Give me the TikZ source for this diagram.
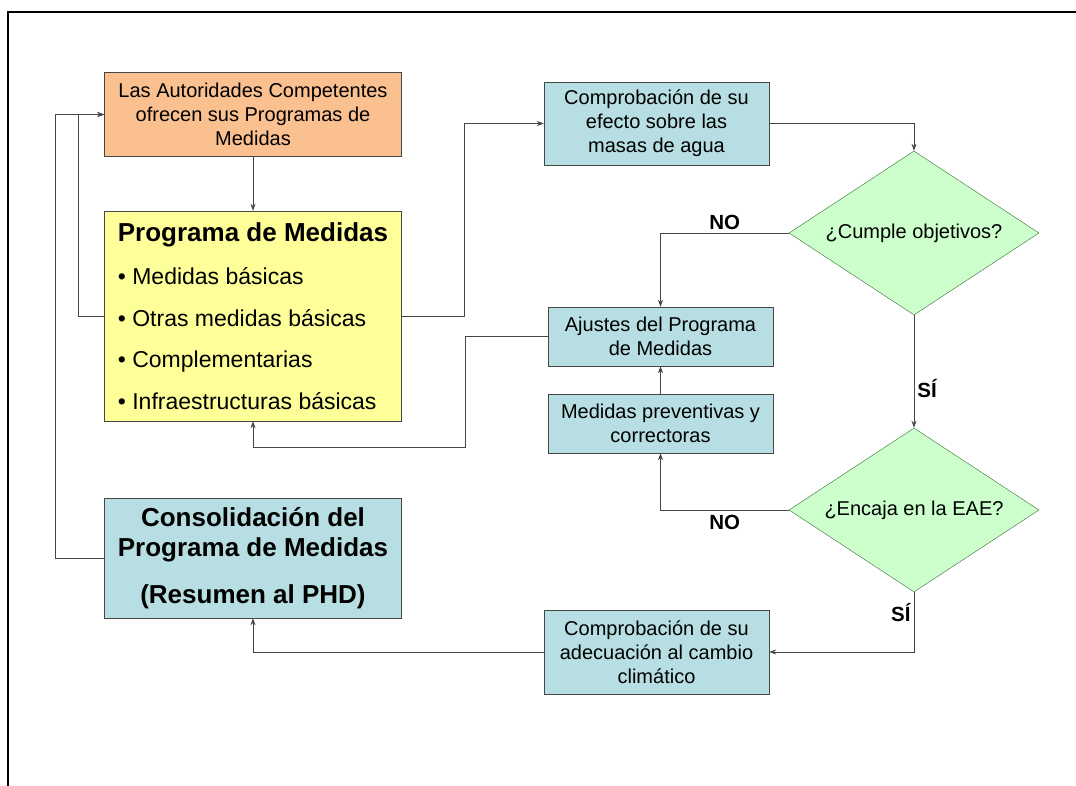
\documentclass[tikz,border=0pt]{standalone}
\usepackage{fontspec}
\setmainfont{Liberation Sans}
\usepackage{tikz}
\usetikzlibrary{shapes.geometric, arrows.meta}
\definecolor{naranja}{RGB}{250,192,144}
\definecolor{amarillo}{RGB}{255,255,153}
\definecolor{celeste}{RGB}{183,222,226}
\definecolor{verde}{RGB}{204,255,204}
\definecolor{borde}{RGB}{70,70,70}
\tikzstyle{autoridad} = [rectangle, 
minimum width=297pt, 
minimum height=84pt,
align=center, 
draw=borde, 
fill=naranja]
\tikzstyle{programa} = [rectangle, 
minimum width=297pt, 
minimum height=210pt,
align=left, 
draw=borde, 
fill=amarillo]
\tikzstyle{consolida} = [rectangle, 
minimum width=297pt, 
minimum height=120pt,
align=center, 
draw=borde, 
fill=celeste]
\tikzstyle{process} = [rectangle, 
minimum width=225pt, 
minimum height=59pt,
align=center, 
draw=borde, 
fill=celeste]
\tikzstyle{decision} = [diamond, 
minimum width=250pt, 
minimum height=164pt,
aspect=1.52,
inner sep=0pt,
align=center, 
draw=borde!80!green, 
fill=verde]
\tikzstyle{etiqueta} = [font=\fontsize{20.5}{24}\selectfont\bfseries, inner sep=3pt]
\tikzstyle{arrow} = [line width=0.8pt, draw=borde, -{Stealth[length=7pt,width=5pt]}]

\begin{document}
\begin{tikzpicture}[x=1pt, y=-1pt, font=\fontsize{20}{24}\selectfont]
\useasboundingbox (0,0) rectangle (1076,786);
\draw[line width=2pt] (8,786) -- (8,12) -- (1076,12);

\node (auto) [autoridad] at (253,114.5) {Las Autoridades Competentes\\ofrecen sus Programas de\\Medidas};
\node (prog) [programa, font=\fontsize{23}{41.5}\selectfont] at (253,316) {{\fontsize{26}{30}\selectfont\bfseries Programa de Medidas}\\[1.5pt]
• Medidas básicas\\
• Otras medidas básicas\\
• Complementarias\\
• Infraestructuras básicas};
\node (consol) [consolida, font=\fontsize{26}{30}\selectfont\bfseries] at (253,558) {Consolidación del\\Programa de Medidas\\[17pt](Resumen al PHD)};

\node (comp1) [process, minimum height=83pt] at (656.5,123.5) {Comprobación de su\\efecto sobre las\\masas de agua};
\node (dec1) [decision] at (914,233) {¿Cumple objetivos?};
\node (ajustes) [process] at (660.5,336.5) {Ajustes del Programa\\de Medidas};
\node (prev) [process] at (660.5,423.5) {Medidas preventivas y\\correctoras};
\node (dec2) [decision] at (914,510) {¿Encaja en la EAE?};
\node (comp2) [process, minimum height=84pt] at (656.5,652) {Comprobación de su\\adecuación al cambio\\climático};

\draw [arrow] (auto) -- (prog);
\draw [arrow] (prog.east) -- ++(63,0) |- (comp1.west);
\draw [arrow] (comp1.east) -| (dec1.north);
\draw [arrow] (dec1.west) -| node (no1) [etiqueta, above, pos=0.25] {NO} (ajustes.north);
\draw [arrow] (dec1.south) -- node (si1) [etiqueta, right, pos=0.65] {SÍ} (dec2.north);
\draw [arrow] (dec2.west) -| node (no2) [etiqueta, below, pos=0.25, yshift=-2pt] {NO} (prev.south);
\draw [arrow] (prev) -- (ajustes);
\draw [arrow] (ajustes.west) -- ++(-82,0) -- ++(0,110.5) -| (prog.south);
\draw [arrow] (dec2.south) |- node (si2) [etiqueta, left, pos=0.17] {SÍ} (comp2.east);
\draw [arrow] (comp2.west) -| (consol.south);

\draw [arrow] (prog.west) -- ++(-26,0) |- (auto.west);
\draw [arrow] (consol.west) -- ++(-49,0) |- (auto.west);

\end{tikzpicture}
\end{document}
